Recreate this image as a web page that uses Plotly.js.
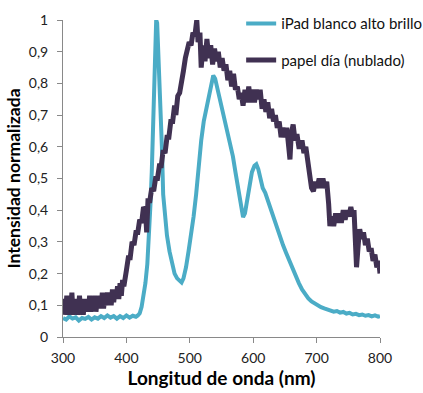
<!DOCTYPE html>
<html>
<head>
<meta charset="utf-8">
<script src="https://cdn.plot.ly/plotly-3.0.1.min.js"></script>
<style>html,body{margin:0;padding:0;background:#fff}#chart{width:423px;height:393px}</style>
</head>
<body>
<div id="chart"></div>
<script>
// iPad blanco alto brillo
const ipadX = [300,305,310,315,320,325,330,335,340,345,350,355,360,365,370,375,380,385,390,395,400,405,410,415,418,421,424,427,430,433,436,438,440,442,444,445.5,447,448.5,450,452,454,456,458,461,464,468,472,476,480,484,487,490,494,498,502,506,510,514,518,522,526,530,534,537,540,544,548,552,556,560,564,568,572,576,580,584,587,590,594,598,602,605,608,611,615,619,623,627,632,637,642,647,652,657,662,667,672,677,682,687,692,697,702,707,712,717,722,727,732,737,742,747,752,757,762,767,772,777,782,787,792,797,800];
const ipadY = [0.06,0.055,0.065,0.058,0.062,0.052,0.06,0.057,0.063,0.055,0.062,0.058,0.066,0.06,0.068,0.061,0.066,0.058,0.066,0.06,0.068,0.061,0.067,0.064,0.068,0.075,0.095,0.125,0.17,0.23,0.32,0.42,0.52,0.66,0.83,0.94,1.0,0.99,0.92,0.86,0.74,0.6,0.45,0.37,0.32,0.27,0.23,0.2,0.185,0.175,0.172,0.185,0.22,0.27,0.32,0.38,0.45,0.54,0.62,0.68,0.72,0.76,0.8,0.825,0.815,0.78,0.75,0.72,0.68,0.645,0.61,0.57,0.52,0.47,0.42,0.378,0.39,0.43,0.48,0.52,0.54,0.545,0.53,0.5,0.47,0.455,0.43,0.41,0.38,0.35,0.32,0.29,0.265,0.24,0.215,0.19,0.17,0.15,0.135,0.122,0.112,0.105,0.1,0.094,0.09,0.086,0.083,0.08,0.082,0.077,0.079,0.074,0.076,0.071,0.073,0.069,0.071,0.067,0.069,0.065,0.068,0.064,0.066];

// papel día (nublado)
const papelX = [300,302,304,306,308,310,312,314,316,318,320,322,324,326,328,330,332,334,336,338,340,342,344,346,348,350,352,354,356,358,360,362,364,366,368,370,372,374,376,378,380,382,384,386,388,390,392,394,396,398,400,403,406,409,412,415,418,421,424,427,430,432,434,437,440,443,446,449,452,455,458,461,464,467,470,473,476,478,481,484,487,490,493,496,499,502,505,508,511,513,516,518,521,524,527,530,533,536,539,542,545,548,551,554,557,560,563,566,569,572,575,578,581,584,587,590,593,596,599,602,605,608,611,614,617,620,623,626,629,632,635,638,641,644,647,650,653,656,658,660,663,666,669,672,674,677,680,683,686,689,692,695,698,701,704,707,710,713,716,719,721,724,727,730,733,736,739,742,745,748,751,754,757,759,761,763,766,768,771,774,777,780,783,786,789,792,795,798,800];
const papelY = [0.07,0.12,0.08,0.13,0.07,0.11,0.08,0.14,0.07,0.12,0.08,0.11,0.07,0.13,0.08,0.11,0.07,0.12,0.08,0.12,0.08,0.13,0.08,0.12,0.09,0.13,0.08,0.12,0.09,0.13,0.09,0.14,0.09,0.13,0.1,0.14,0.1,0.14,0.1,0.15,0.11,0.15,0.12,0.16,0.12,0.17,0.13,0.18,0.16,0.2,0.21,0.25,0.25,0.3,0.29,0.33,0.33,0.37,0.36,0.41,0.4,0.33,0.43,0.43,0.47,0.46,0.5,0.5,0.54,0.54,0.59,0.58,0.63,0.63,0.68,0.68,0.73,0.7,0.76,0.77,0.82,0.84,0.88,0.9,0.93,0.92,0.96,0.95,1.0,0.93,0.96,0.85,0.92,0.87,0.94,0.88,0.92,0.86,0.91,0.87,0.9,0.85,0.88,0.84,0.86,0.81,0.84,0.79,0.83,0.78,0.79,0.75,0.77,0.73,0.78,0.74,0.79,0.74,0.78,0.74,0.78,0.75,0.78,0.72,0.75,0.71,0.74,0.69,0.72,0.68,0.7,0.66,0.68,0.63,0.66,0.63,0.66,0.6,0.56,0.64,0.67,0.62,0.64,0.6,0.6,0.62,0.58,0.6,0.55,0.53,0.47,0.46,0.49,0.47,0.5,0.47,0.5,0.47,0.49,0.42,0.35,0.38,0.35,0.39,0.36,0.39,0.36,0.4,0.37,0.4,0.38,0.41,0.38,0.4,0.26,0.22,0.3,0.34,0.31,0.33,0.29,0.31,0.27,0.28,0.24,0.26,0.22,0.24,0.2];

const seriesNames = ['iPad blanco alto brillo', 'papel día (nublado)'];
const xTicks = [300,400,500,600,700,800];
const yTicks = [0,0.1,0.2,0.3,0.4,0.5,0.6,0.7,0.8,0.9,1];
const yTickText = ['0','0,1','0,2','0,3','0,4','0,5','0,6','0,7','0,8','0,9','1'];

const FONT = 'Lato, "Open Sans", sans-serif';

const data = [
  {x: ipadX, y: ipadY, type: 'scatter', mode: 'lines', name: seriesNames[0], legendgroup: 'a',
   line: {color: '#4BACC6', width: 4}},
  {x: papelX, y: papelY, type: 'scatter', mode: 'lines', name: seriesNames[1], legendgroup: 'b',
   line: {color: '#403152', width: 5}}
];

const layout = {
  width: 423, height: 393,
  margin: {l: 63, r: 43, t: 20, b: 56, pad: 0, autoexpand: false},
  paper_bgcolor: '#fff', plot_bgcolor: '#fff',
  font: {family: FONT, color: '#222', size: 13},
  showlegend: true,
  legend: {x: 0.562, y: 1.04, xanchor: 'left', yanchor: 'top', bgcolor: 'rgba(0,0,0,0)',
           font: {family: FONT, size: 15, color: '#111'}, itemwidth: 30,
           traceorder: 'grouped', tracegroupgap: 14},
  xaxis: {range: [300, 800], tickvals: xTicks, ticktext: xTicks.map(String),
          showgrid: false, zeroline: false, showline: true, linecolor: '#898989', linewidth: 1,
          ticks: 'outside', ticklen: 5, tickcolor: '#898989', automargin: false, ticklabelstandoff: 3,
          tickfont: {family: FONT, size: 14, color: '#222'},
          title: {text: 'Longitud de onda (nm)', font: {family: FONT, size: 19, color: '#000', weight: 'bold'}, standoff: 6}},
  yaxis: {range: [0, 1], tickvals: yTicks, ticktext: yTickText,
          showgrid: false, zeroline: false, showline: true, linecolor: '#898989', linewidth: 1,
          ticks: 'outside', ticklen: 5, tickcolor: '#898989', automargin: false, ticklabelstandoff: 6,
          tickfont: {family: FONT, size: 14, color: '#222'},
          title: {text: 'Intensidad normalizada', font: {family: FONT, size: 17.5, color: '#000', weight: 'bold'}, standoff: 3}}
};

Plotly.newPlot('chart', data, layout, {staticPlot: true, displayModeBar: false});
</script>
</body>
</html>
